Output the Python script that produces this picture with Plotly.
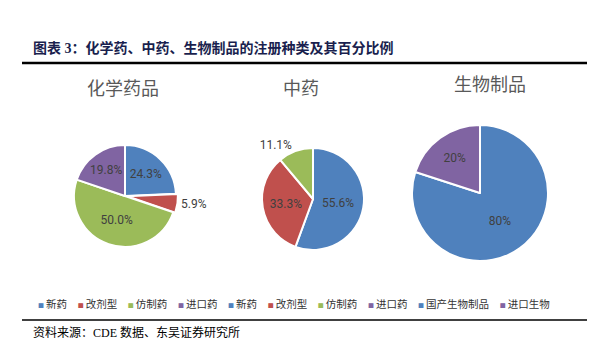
import plotly.graph_objects as go

# ---- data ----
chem_labels = ["新药", "改剂型", "仿制药", "进口药"]
chem_values = [24.3, 5.9, 50.0, 19.8]
tcm_labels = ["新药", "改剂型", "仿制药", "进口药"]
tcm_values = [55.6, 33.3, 11.1, 0.0]
bio_labels = ["国产生物制品", "进口生物"]
bio_values = [80.0, 20.0]
pie_titles = ["化学药品", "中药", "生物制品"]
title_text = "图表 3：化学药、中药、生物制品的注册种类及其百分比例"
source_text = "资料来源：CDE 数据、东吴证券研究所"

BLUE, RED, GREEN, PURPLE = "#4F81BD", "#C0504D", "#9BBB59", "#8064A2"
chem_colors = [BLUE, RED, GREEN, PURPLE]
tcm_colors = [BLUE, RED, GREEN, PURPLE]
bio_colors = [BLUE, PURPLE]

W, H = 595, 356
def fx(x):
    return x / W
def fy(y):
    return 1 - y / H

CJK = "Noto Sans CJK SC"
LBL_FONT = dict(family="Liberation Sans Narrow, Roboto, Liberation Sans", size=12, color="#404040")

def pie_domain(cx, cy, d):
    return dict(x=[fx(cx - d / 2), fx(cx + d / 2)], y=[fy(cy + d / 2), fy(cy - d / 2)])

fig = go.Figure()

fig.add_trace(go.Pie(
    labels=chem_labels, values=chem_values, sort=False, direction="clockwise", rotation=0,
    marker=dict(colors=chem_colors, line=dict(color="white", width=2)),
    texttemplate="%{percent:.1%}", textposition=["inside", "outside", "inside", "inside"],
    insidetextorientation="horizontal", textfont=LBL_FONT, showlegend=False,
    domain=pie_domain(117, 188, 106), pull=[0, 0.04, 0, 0],
))
fig.add_trace(go.Pie(
    labels=tcm_labels, values=tcm_values, sort=False, direction="clockwise", rotation=0,
    marker=dict(colors=tcm_colors, line=dict(color="white", width=2)),
    texttemplate="%{percent:.1%}", textposition=["inside", "inside", "outside", "none"],
    insidetextorientation="horizontal", textfont=LBL_FONT, showlegend=False,
    domain=pie_domain(305, 191, 102),
))
fig.add_trace(go.Pie(
    labels=bio_labels, values=bio_values, sort=False, direction="clockwise", rotation=0,
    marker=dict(colors=bio_colors, line=dict(color="white", width=2)),
    texttemplate="%{percent:.0%}", textposition="inside",
    insidetextorientation="horizontal", textfont=LBL_FONT, showlegend=False,
    domain=pie_domain(472, 185, 136),
))

annotations = []
# figure title
annotations.append(dict(text="<b>" + title_text + "</b>", x=fx(23), y=fy(40), xref="paper", yref="paper",
                        xanchor="left", yanchor="middle", showarrow=False,
                        font=dict(family="Liberation Serif, " + CJK, size=14, color="#1a1f4e")))
# pie titles
for t, cx, cy in zip(pie_titles, [115, 293, 482], [79, 79, 75]):
    annotations.append(dict(text=t, x=fx(cx), y=fy(cy), xref="paper", yref="paper",
                            xanchor="center", yanchor="middle", showarrow=False,
                            font=dict(family=CJK, size=18, color="#595959")))
# legend row built from the category / colour lists
leg_labels = chem_labels + tcm_labels + bio_labels
leg_colors = chem_colors + tcm_colors + bio_colors
leg_parts = ["<span style='color:%s;font-size:6px'>■</span>\u2009%s" % (c, l)
             for l, c in zip(leg_labels, leg_colors)]
annotations.append(dict(text="\u2003".join(leg_parts), x=fx(286), y=fy(295), xref="paper", yref="paper",
                        xanchor="center", yanchor="middle", showarrow=False,
                        font=dict(family=CJK, size=10.5, color="#333333")))
# source
annotations.append(dict(text=source_text, x=fx(23), y=fy(324), xref="paper", yref="paper",
                        xanchor="left", yanchor="middle", showarrow=False,
                        font=dict(family="Liberation Serif, " + CJK, size=12, color="#000000")))

shapes = [
    dict(type="line", xref="paper", yref="paper", x0=fx(14), x1=fx(582), y0=fy(55), y1=fy(55),
         line=dict(color="black", width=2.5)),
    dict(type="line", xref="paper", yref="paper", x0=fx(14), x1=fx(582), y0=fy(312), y1=fy(312),
         line=dict(color="black", width=1.5)),
]

fig.update_layout(
    width=W, height=H, margin=dict(l=0, r=0, t=0, b=0),
    paper_bgcolor="white", plot_bgcolor="white",
    annotations=annotations, shapes=shapes, showlegend=False,
)

fig.write_html("out.html")
